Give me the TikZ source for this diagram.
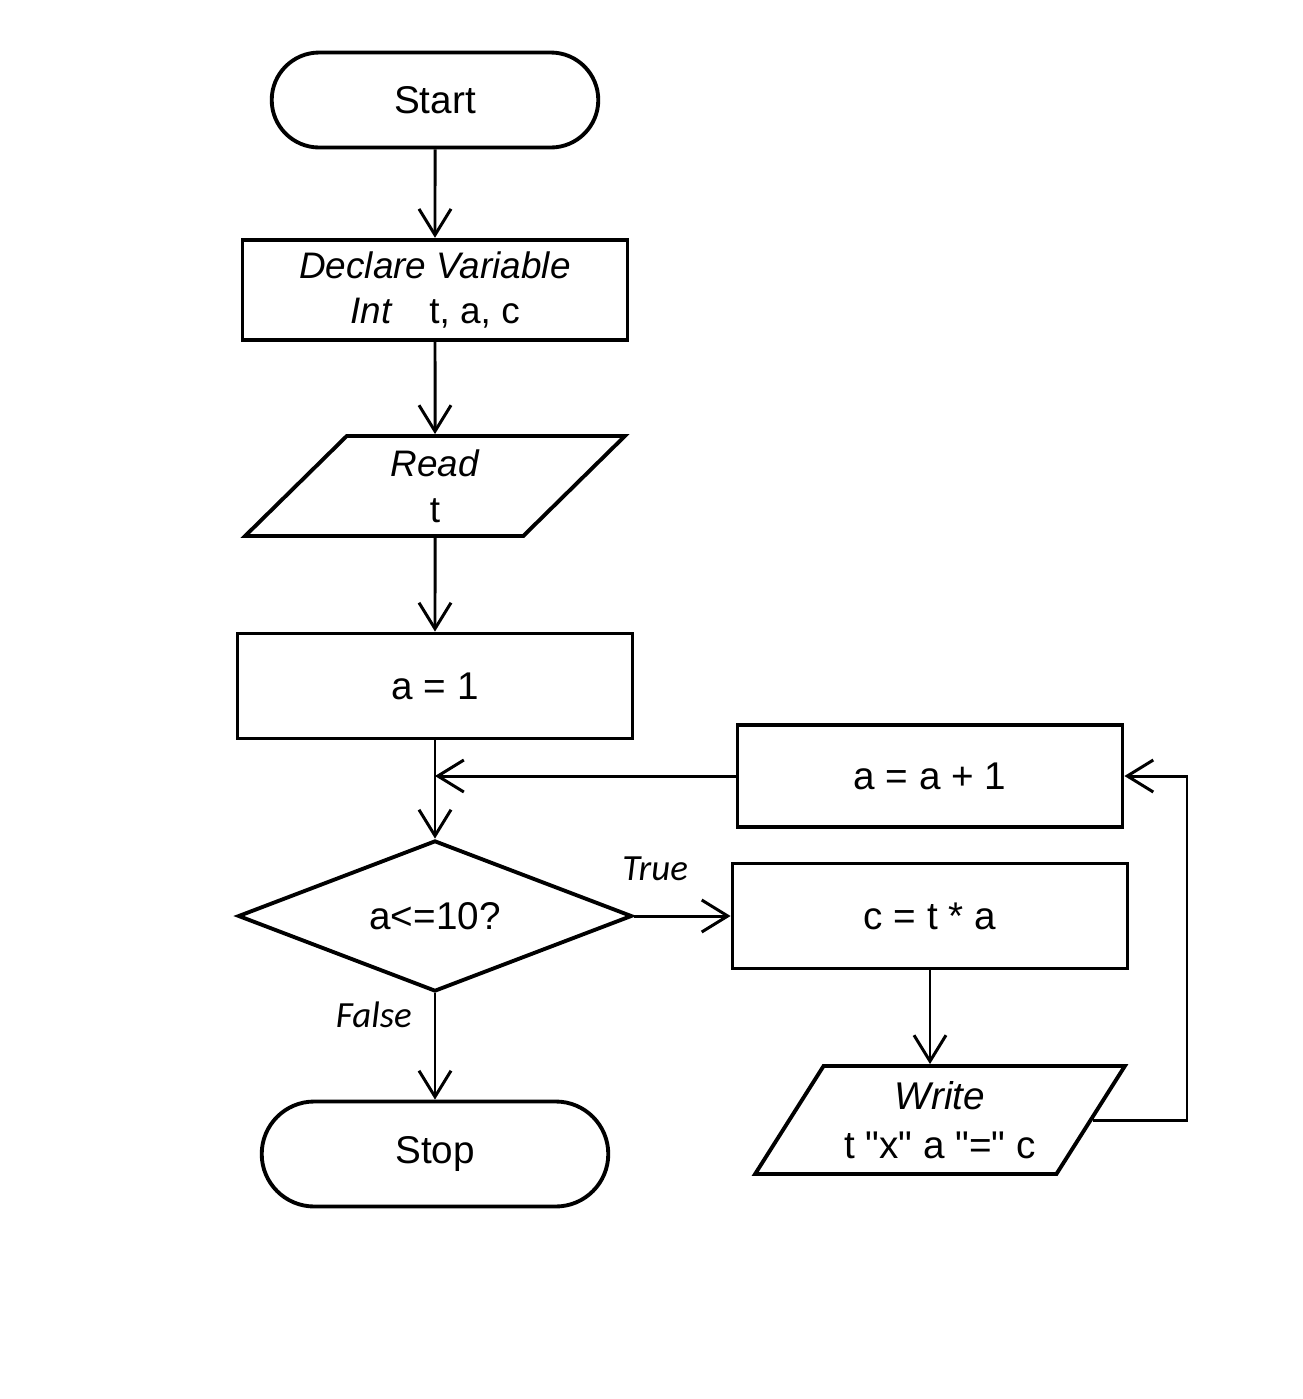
\documentclass[tikz,border=0pt]{standalone}
\usepackage{fontspec}
\setmainfont{Liberation Sans}
\newfontfamily\labelfont{Carlito}
\usepackage{tikz}
\usetikzlibrary{arrows.meta,shapes.geometric,shapes.misc}

\begin{document}
\begin{tikzpicture}[
  every node/.style={font=\fontsize{11}{13}\selectfont, align=center},
  terminal/.style={draw, line width=1.1pt, rounded rectangle, minimum width=3.5cm, minimum height=0.95cm},
  process/.style={draw, line width=1.1pt, rectangle, minimum width=3.9cm, minimum height=1.03cm},
  io/.style={draw, line width=1.1pt, trapezium, trapezium stretches=true,
    trapezium left angle=58, trapezium right angle=122, minimum width=3.75cm, minimum height=1.04cm},
  decision/.style={draw, line width=1.1pt, diamond, aspect=2.6, inner sep=1pt,
    minimum width=3.94cm, minimum height=1.51cm},
  flow/.style={draw, line width=0.85pt, -{Straight Barb[length=2.6mm,width=3.2mm,line width=0.85pt]}},
  branch/.style={font=\labelfont\itshape\fontsize{10.5}{12}\selectfont}
]
\useasboundingbox (0,0) rectangle (13.03,-13.99);

% Main column
\node[terminal] (start) at (4.35,-1.00) {Start};
\node[process, minimum width=3.85cm, minimum height=0.95cm] (decl) at (4.35,-2.90)
  {\fontsize{10.5}{10.8}\selectfont\textit{Declare Variable}\\\fontsize{10.5}{10.8}\selectfont\textit{Int}\quad t, a, c};
\node[io, minimum width=3.80cm, minimum height=1.00cm, trapezium left angle=56, trapezium right angle=124] (read) at (4.35,-4.86)
  {\fontsize{10.5}{11}\selectfont\textit{Read}\\\fontsize{10.5}{11}\selectfont t};
\node[process, minimum width=3.95cm, minimum height=1.05cm] (init) at (4.35,-6.86) {a = 1};
\node[decision] (cond) at (4.35,-9.16) {a<=10?};
\node[terminal, minimum width=3.70cm, minimum height=1.05cm] (stop) at (4.35,-11.54) {Stop};

% Loop body
\node[process, minimum width=3.85cm, minimum height=1.02cm] (incr) at (9.30,-7.76) {a = a + 1};
\node[process, minimum width=3.95cm, minimum height=1.05cm] (calc) at (9.30,-9.16) {c = t * a};
\node[io, minimum width=3.70cm, minimum height=1.08cm] (write) at (9.40,-11.20)
  {\textit{Write}\\[1pt]t \textquotedbl x\textquotedbl{} a \textquotedbl=\textquotedbl{} c};

\coordinate (join) at (init.south |- incr.west);
\coordinate (loop) at (11.87,-7.76);

% Connectors
\draw[flow] (start) -- (decl);
\draw[flow] (decl) -- (read);
\draw[flow] (read) -- (init);
\draw[flow] (init) -- (cond);
\draw[flow] (incr.west) -- (join);
\draw[flow] (cond.east) -- node[branch, above=0.22cm, pos=0.22] {True} (calc.west);
\draw[flow] (cond.south) -- node[branch, left=0.1cm, pos=0.2] {False} (stop.north);
\draw[flow] (calc) -- (calc |- write.north);
\draw[flow] (write.east) -| (loop) -- (incr.east);
\end{tikzpicture}
\end{document}
